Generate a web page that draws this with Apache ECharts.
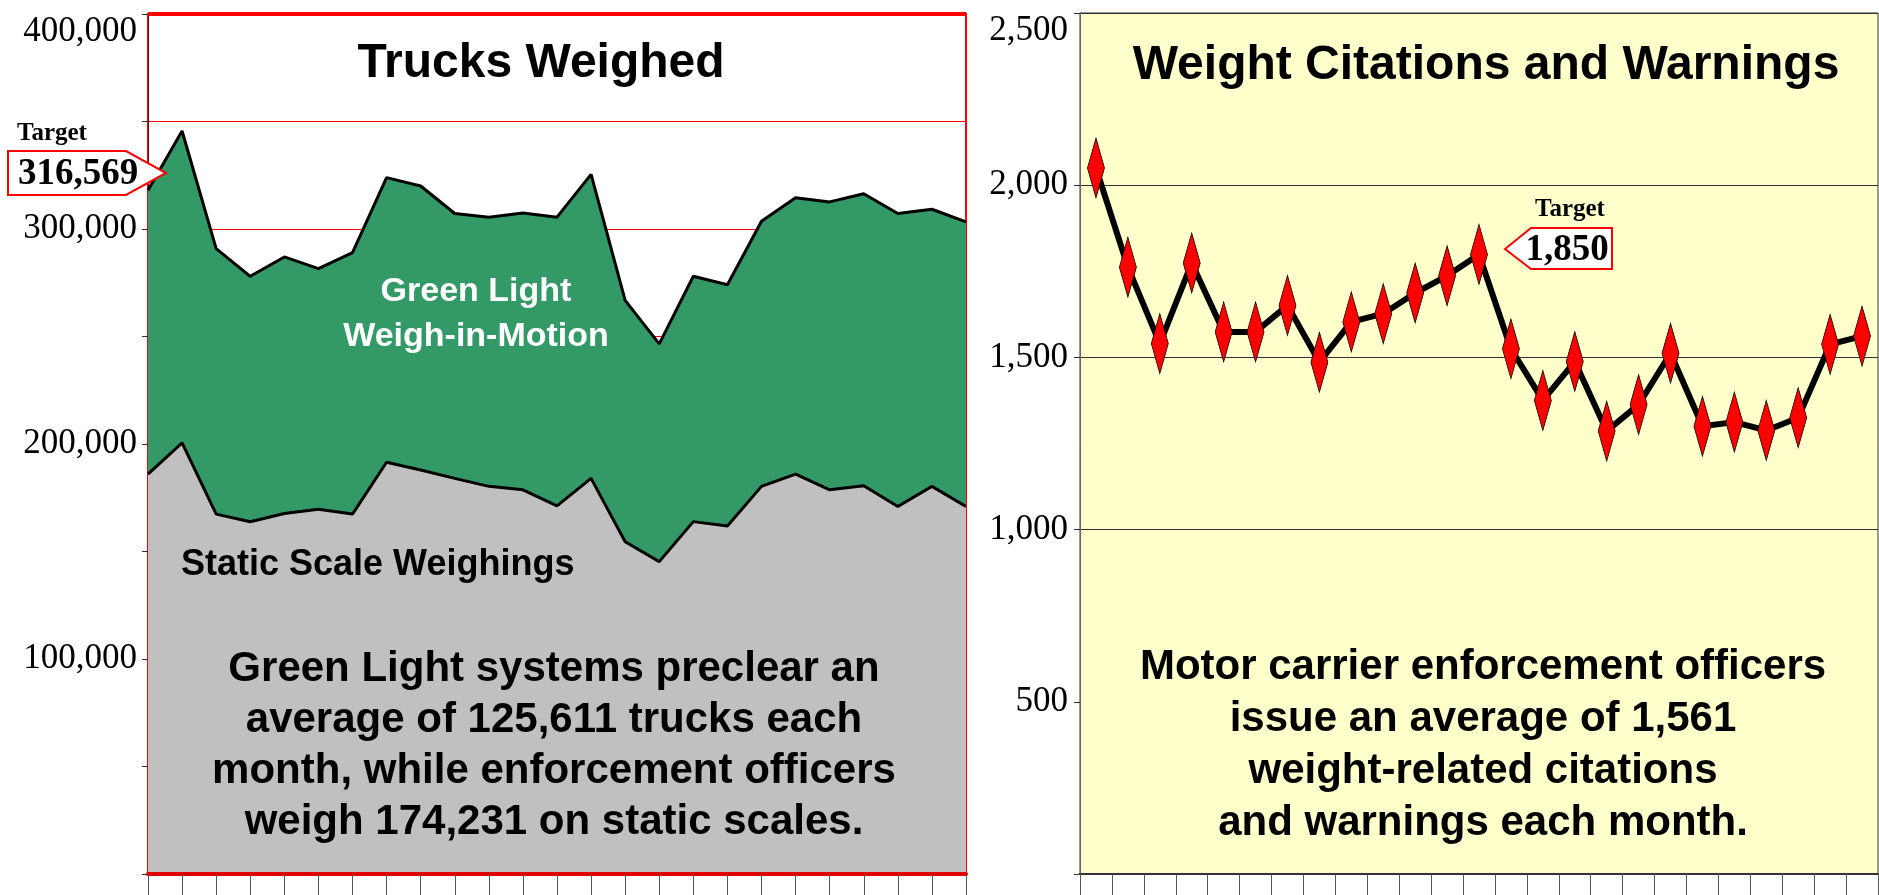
<!DOCTYPE html>
<html lang="en">
<head>
<meta charset="utf-8">
<script src="https://cdn.jsdelivr.net/npm/echarts@6/dist/echarts.min.js"></script>
<style>
    html, body { margin: 0; padding: 0; background: #fff; }
    #main { width: 1879px; height: 895px; }
</style>
</head>
<body>
<div id="main"></div>
<script type="text/javascript">
    // 25 monthly periods (x labels are cut off in the original)
    var months = ['1', '2', '3', '4', '5', '6', '7', '8', '9', '10', '11', '12', '13',
                  '14', '15', '16', '17', '18', '19', '20', '21', '22', '23', '24', '25'];

    // trucks weighed on static scales
    var staticScale = [186000, 200500, 167400, 163800, 167700, 169700, 167400, 191500, 187900,
                       184000, 180300, 178700, 171200, 184000, 154500, 145300, 163900, 161900,
                       180300, 186000, 178700, 180600, 170900, 180300, 170900];
    // trucks precleared by Green Light weigh-in-motion (stacked on top)
    var greenLight = [132000, 145100, 123500, 114200, 119300, 111900, 121600, 132400, 132100,
                      123200, 125200, 128700, 134300, 141400, 112300, 101300, 114100, 112200,
                      123300, 128500, 133900, 135800, 136300, 128900, 132400];
    // weight citations and warnings
    var citations = [2050, 1762, 1540, 1774, 1574, 1574, 1651, 1486, 1603, 1627, 1687, 1737, 1799,
                     1525, 1375, 1488, 1286, 1363, 1512, 1300, 1312, 1288, 1325, 1538, 1562];

    var truckLabels = [100000, 200000, 300000, 400000];
    var citationLabels = [500, 1000, 1500, 2000, 2500];
    var truckTarget = '316,569';
    var citationTarget = '1,850';

    var sans = '"Liberation Sans", Arial, sans-serif';
    var serif = '"Liberation Serif", "Times New Roman", serif';

    function fmt(v) { return v.toLocaleString('en-US'); }

    function txt(x, y, text, font, opts) {
        opts = opts || {};
        return {
            type: 'text', x: x, y: y, z: 110, silent: true,
            style: {
                text: text, font: font, fill: opts.fill || '#000',
                align: opts.align || 'center', verticalAlign: 'middle',
                lineHeight: opts.lineHeight
            }
        };
    }

    var chart = echarts.init(document.getElementById('main'));

    var option = {
        animation: false,
        backgroundColor: '#fff',
        grid: [
            {left: 148, top: 14, width: 818, height: 860, show: true,
             backgroundColor: '#fff', borderColor: '#ff0000', borderWidth: 2},
            {left: 1080, top: 13, width: 798, height: 861, show: true,
             backgroundColor: '#ffffcc', borderColor: '#333', borderWidth: 1}
        ],
        xAxis: [
            {type: 'category', gridIndex: 0, data: months, boundaryGap: false, z: 10,
             axisLine: {lineStyle: {color: '#e00000', width: 4}},
             axisTick: {show: true, length: 24, lineStyle: {color: '#555', width: 1}},
             axisLabel: {show: false}},
            {type: 'category', gridIndex: 1, data: months, boundaryGap: true, z: 10,
             axisLine: {lineStyle: {color: '#333', width: 2}},
             axisTick: {show: true, length: 24, lineStyle: {color: '#555', width: 1}},
             axisLabel: {show: false}}
        ],
        yAxis: [
            {type: 'value', gridIndex: 0, min: 0, max: 400000, interval: 50000,
             axisLine: {show: true, lineStyle: {color: '#800000', width: 1}},
             axisTick: {show: true, length: 6, lineStyle: {color: '#333'}},
             axisLabel: {
                 margin: 11, color: '#000', fontFamily: serif, fontSize: 35,
                 verticalAlignMaxLabel: 'top',
                 formatter: function (v) { return truckLabels.indexOf(v) >= 0 ? fmt(v) : ''; }
             },
             splitLine: {show: true, lineStyle: {color: '#ff0000', width: 1}}},
            {type: 'value', gridIndex: 1, min: 0, max: 2500, interval: 500,
             axisLine: {show: true, lineStyle: {color: '#666', width: 1}},
             axisTick: {show: true, length: 6, lineStyle: {color: '#333'}},
             axisLabel: {
                 margin: 12, color: '#000', fontFamily: serif, fontSize: 35,
                 verticalAlignMaxLabel: 'top',
                 formatter: function (v) { return citationLabels.indexOf(v) >= 0 ? fmt(v) : ''; }
             },
             splitLine: {show: true, lineStyle: {
                 color: ['#333', 'rgba(0,0,0,0)', '#333', '#333', '#333', '#333'], width: 1}}}
        ],
        series: [
            {name: 'Static Scale Weighings', type: 'line', xAxisIndex: 0, yAxisIndex: 0,
             stack: 'trucks', data: staticScale, symbol: 'none', z: 4,
             lineStyle: {color: '#000', width: 3},
             areaStyle: {color: '#c0c0c0', opacity: 1}},
            {name: 'Green Light Weigh-in-Motion', type: 'line', xAxisIndex: 0, yAxisIndex: 0,
             stack: 'trucks', data: greenLight, symbol: 'none', z: 3,
             lineStyle: {color: '#000', width: 3},
             areaStyle: {color: '#339966', opacity: 1},
             markLine: {silent: true, symbol: ['none', 'none'], label: {show: false},
                        lineStyle: {color: '#ff0000', width: 4, type: 'solid'},
                        data: [{yAxis: 400000}]}},
            {name: 'Weight Citations and Warnings', type: 'line', xAxisIndex: 1, yAxisIndex: 1,
             data: citations, z: 5, showSymbol: true, showAllSymbol: true,
             symbol: 'path://M0,-1L0.5,0L0,1L-0.5,0Z', symbolSize: [17, 60], symbolKeepAspect: false,
             lineStyle: {color: '#000', width: 6},
             itemStyle: {color: '#ff0000', borderColor: '#000', borderWidth: 1}}
        ],
        graphic: [
            txt(541, 64, 'Trucks Weighed', 'bold 48px ' + sans),
            txt(1486, 66, 'Weight Citations and Warnings', 'bold 48px ' + sans),
            txt(476, 314, 'Green Light\nWeigh-in-Motion', 'bold 34px ' + sans,
                {fill: '#fff', lineHeight: 45}),
            txt(181, 565, 'Static Scale Weighings', 'bold 36px ' + sans, {align: 'left'}),
            txt(554, 746, 'Green Light systems preclear an\naverage of 125,611 trucks each\n' +
                'month, while enforcement officers\nweigh 174,231 on static scales.',
                'bold 42px ' + sans, {lineHeight: 51}),
            txt(1483, 745, 'Motor carrier enforcement officers\nissue an average of 1,561\n' +
                'weight-related citations\nand warnings each month.',
                'bold 42px ' + sans, {lineHeight: 52}),

            // target callouts
            {type: 'polygon', z: 105, silent: true,
             shape: {points: [[8, 151], [126, 151], [166, 173], [126, 195], [8, 195]]},
             style: {fill: '#fff', stroke: '#ff0000', lineWidth: 2}},
            txt(17, 134, 'Target', 'bold 25px ' + serif, {align: 'left'}),
            txt(78, 174, truckTarget, 'bold 37px ' + serif),
            {type: 'polygon', z: 105, silent: true,
             shape: {points: [[1505, 249], [1531, 228], [1612, 228], [1612, 269], [1531, 269]]},
             style: {fill: '#fff', stroke: '#ff0000', lineWidth: 2}},
            txt(1570, 210, 'Target', 'bold 25px ' + serif),
            txt(1567, 250, citationTarget, 'bold 37px ' + serif)
        ]
    };

    chart.setOption(option);
</script>
</body>
</html>
